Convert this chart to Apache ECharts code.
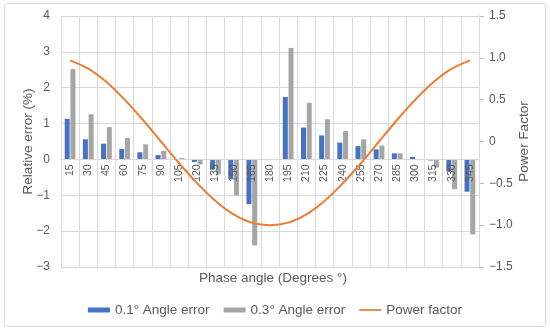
<!DOCTYPE html>
<html>
<head>
<meta charset="utf-8">
<script src="https://cdn.jsdelivr.net/npm/echarts@6/dist/echarts.min.js"></script>
<style>
html,body{margin:0;padding:0;background:#fff;}
#c{width:550px;height:331px;}
</style>
</head>
<body>
<div id="c"></div>
<script>
const categories = ['15','30','45','60','75','90','105','120','135','150','165','180','195','210','225','240','255','270','285','300','315','330','345'];
const err01 = [1.13,0.56,0.44,0.29,0.2,0.12,0.01,-0.07,-0.27,-0.54,-1.25,0,1.74,0.89,0.67,0.47,0.37,0.28,0.17,0.07,-0.03,-0.33,-0.9];
const err03 = [2.52,1.26,0.9,0.6,0.42,0.24,0.04,-0.14,-0.42,-1.0,-2.4,0,3.11,1.58,1.12,0.79,0.56,0.39,0.17,-0.01,-0.23,-0.83,-2.09];
const powerFactor = [0.97,0.87,0.71,0.5,0.26,0,-0.26,-0.5,-0.71,-0.87,-0.97,-1,-0.97,-0.87,-0.71,-0.5,-0.26,0,0.26,0.5,0.71,0.87,0.97];
const leftTicks = {min:-3, max:4, interval:1};
const rightTicks = {min:-1.5, max:1.5, interval:0.5};
const xTitle = 'Phase angle (Degrees \u00b0)';

const FONT = 'Liberation Sans, Arial, sans-serif';
const TXT = '#595959';
const GRID = '#D9D9D9';
const minus = s => String(s).replace('-', '\u2212');

const W = 550, H = 331;
const G = {left:61, right:71, top:16, bottom:64};
const plotH = H - G.top - G.bottom;
// category axis sits on the zero line of the left value axis
const zeroOffset = -plotH * (0 - leftTicks.min) / (leftTicks.max - leftTicks.min);

const chart = echarts.init(document.getElementById('c'), null, {renderer:'canvas'});
chart.setOption({
  animation:false,
  textStyle:{fontFamily:FONT},
  graphic:[{
    type:'rect', shape:{x:4.5, y:3.5, width:541, height:323, r:3},
    style:{fill:'none', stroke:'#D9D9D9', lineWidth:1}, z:-10, silent:true
  },{
    type:'text', x:273, y:278,
    style:{text:xTitle, fill:TXT, font:'13.5px ' + FONT, textAlign:'center', textVerticalAlign:'middle'},
    silent:true
  }],
  grid:{left:G.left, right:G.right, top:G.top, bottom:G.bottom, containLabel:false, outerBoundsMode:'none'},
  legend:{
    top:298, left:'center', itemGap:14, itemWidth:22, itemHeight:5,
    textStyle:{color:TXT, fontSize:13.5, fontFamily:FONT},
    data:[
      {name:'0.1\u00b0 Angle error', icon:'rect'},
      {name:'0.3\u00b0 Angle error', icon:'rect'},
      {name:'Power factor', icon:'path://M0,1.6 L22,1.6 L22,3.4 L0,3.4 Z'}
    ]
  },
  xAxis:{
    type:'category', data:categories, boundaryGap:true, position:'bottom', offset:zeroOffset, z:3,
    axisLine:{show:true, onZero:false, lineStyle:{color:GRID}},
    axisTick:{show:false},
    axisLabel:{rotate:90, color:TXT, fontSize:10.5, margin:5, interval:0},
    splitLine:{show:true, interval:0, lineStyle:{color:GRID}}
  },
  yAxis:[{
    type:'value', min:leftTicks.min, max:leftTicks.max, interval:leftTicks.interval,
    axisLine:{show:false}, axisTick:{show:false},
    axisLabel:{color:TXT, fontSize:12, margin:11, formatter:v=>minus(v)},
    splitLine:{show:true, lineStyle:{color:GRID}},
    name:'Relative error (%)', nameLocation:'middle', nameGap:26, nameMoveOverlap:false,
    nameTextStyle:{color:TXT, fontSize:13.5}
  },{
    type:'value', position:'right', min:rightTicks.min, max:rightTicks.max, interval:rightTicks.interval,
    axisLine:{show:true, onZero:false, lineStyle:{color:'#BFBFBF'}},
    axisTick:{show:true, length:5, lineStyle:{color:'#BFBFBF'}},
    axisLabel:{color:TXT, fontSize:12, margin:10, formatter:v=> v===0 ? '0' : minus(v.toFixed(1))},
    splitLine:{show:false},
    name:'Power Factor', nameLocation:'middle', nameGap:38, nameMoveOverlap:false,
    nameTextStyle:{color:TXT, fontSize:13.5}
  }],
  series:[{
    name:'0.1\u00b0 Angle error', type:'bar', data:err01, yAxisIndex:0,
    barWidth:5, barGap:'15%', itemStyle:{color:'#4472C4'}
  },{
    name:'0.3\u00b0 Angle error', type:'bar', data:err03, yAxisIndex:0,
    barWidth:5, itemStyle:{color:'#A5A5A5'}
  },{
    name:'Power factor', type:'line', data:powerFactor, yAxisIndex:1,
    smooth:0.3, symbol:'none', lineStyle:{color:'#ED7D31', width:2}, itemStyle:{color:'#ED7D31'}, z:5
  }]
});
</script>
</body>
</html>
